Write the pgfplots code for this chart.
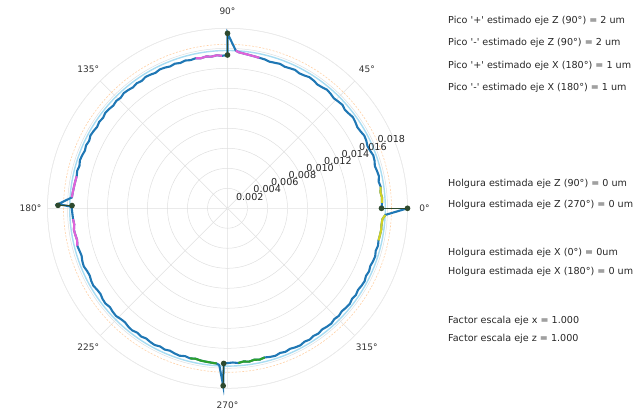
\documentclass[border=0pt]{standalone}
\usepackage{pgfplots}
\pgfplotsset{compat=1.18}
\usepackage{pgfplotstable}
\usepgfplotslibrary{polar}
\usepackage{fontspec}
\setmainfont{DejaVu Sans}
\definecolor{tabblue}{HTML}{1F77B4}
\definecolor{mag}{HTML}{E062D8}
\definecolor{yel}{HTML}{D2D226}
\definecolor{grn}{HTML}{2CA02C}
\definecolor{mk}{HTML}{2E4A2E}
\definecolor{lblue}{HTML}{A8DCF2}
\definecolor{lorange}{HTML}{FFD2A8}

\pgfplotstableread{
a r
0 0.01540
2 0.01546
4 0.01549
6 0.01538
8 0.01547
10 0.01535
12 0.01548
14 0.01541
16 0.01533
18 0.01546
20 0.01551
22 0.01538
24 0.01532
26 0.01544
28 0.01549
30 0.01537
32 0.01531
34 0.01542
36 0.01550
38 0.01539
40 0.01532
42 0.01546
44 0.01538
46 0.01530
48 0.01541
50 0.01548
52 0.01536
54 0.01530
56 0.01541
58 0.01546
60 0.01534
62 0.01529
64 0.01540
66 0.01533
68 0.01527
70 0.01537
72 0.01530
74 0.01525
76 0.01535
78 0.01538
80 0.01543
82 0.01549
84 0.01556
86 0.01565
87 0.01580
90 0.01750
90 0.01533
92 0.01526
94 0.01534
96 0.01525
98 0.01533
100 0.01524
102 0.01534
104 0.01527
106 0.01537
108 0.01528
110 0.01539
112 0.01530
114 0.01540
116 0.01545
118 0.01534
120 0.01543
122 0.01548
124 0.01536
126 0.01545
128 0.01535
130 0.01544
132 0.01550
134 0.01537
136 0.01546
138 0.01536
140 0.01545
142 0.01551
144 0.01538
146 0.01547
148 0.01537
150 0.01546
152 0.01552
154 0.01539
156 0.01548
158 0.01538
160 0.01547
162 0.01552
164 0.01540
166 0.01549
168 0.01542
170 0.01546
172 0.01550
174 0.01555
176 0.01560
178.6 0.01695
179.4 0.01560
182 0.01552
184 0.01548
186 0.01541
188 0.01551
190 0.01544
192 0.01537
194 0.01548
196 0.01540
198 0.01534
200 0.01545
202 0.01550
204 0.01538
206 0.01533
208 0.01544
210 0.01549
212 0.01537
214 0.01532
216 0.01544
218 0.01548
220 0.01536
222 0.01545
224 0.01550
226 0.01538
228 0.01533
230 0.01544
232 0.01549
234 0.01537
236 0.01546
238 0.01535
240 0.01544
242 0.01549
244 0.01537
246 0.01546
248 0.01536
250 0.01545
252 0.01550
254 0.01538
256 0.01547
258 0.01538
260 0.01546
262 0.01549
264 0.01552
266 0.01556
267 0.01570
268.6 0.01775
268.6 0.01552
270 0.01548
272 0.01543
274 0.01551
276 0.01540
278 0.01549
280 0.01538
282 0.01547
284 0.01537
286 0.01546
288 0.01551
290 0.01539
292 0.01548
294 0.01538
296 0.01547
298 0.01552
300 0.01540
302 0.01549
304 0.01539
306 0.01548
308 0.01537
310 0.01546
312 0.01551
314 0.01539
316 0.01548
318 0.01538
320 0.01547
322 0.01552
324 0.01540
326 0.01549
328 0.01539
330 0.01548
332 0.01553
334 0.01541
336 0.01550
338 0.01540
340 0.01549
342 0.01553
344 0.01542
346 0.01551
348 0.01544
350 0.01548
352 0.01552
354 0.01549
356 0.01553
357.6 0.01580
360 0.01800
}\datamain

\pgfplotstableread{
a r
78 0.01538
80 0.01543
82 0.01549
84 0.01556
86 0.01565
87 0.01580
}\magtopA
\pgfplotstableread{
a r
92 0.01526
94 0.01534
96 0.01525
98 0.01533
100 0.01524
102 0.01534
}\magtopB
\pgfplotstableread{
a r
168 0.01542
170 0.01546
172 0.01550
174 0.01555
176 0.01560
}\magleftA
\pgfplotstableread{
a r
184 0.01548
186 0.01541
188 0.01551
190 0.01544
192 0.01537
194 0.01548
}\magleftB
\pgfplotstableread{
a r
256 0.01547
258 0.01538
260 0.01546
262 0.01549
264 0.01552
266 0.01556
}\grnA
\pgfplotstableread{
a r
274 0.01551
276 0.01540
278 0.01549
280 0.01538
282 0.01547
284 0.01537
}\grnB
\pgfplotstableread{
a r
348 0.01544
350 0.01548
352 0.01552
354 0.01549
356 0.01553
357.6 0.01580
}\yelA
\pgfplotstableread{
a r
2 0.01546
4 0.01549
6 0.01538
8 0.01547
}\yelB

\begin{document}
\begin{tikzpicture}
\useasboundingbox (0,0) rectangle (641pt,412pt);
\begin{polaraxis}[
  at={(227.5pt,203.7pt)}, anchor=center,
  scale only axis, width=360pt, height=360pt,
  xmin=0, xmax=360, ymin=0, ymax=0.018,
  xtick={0,45,...,315},
  ytick={0.002,0.004,0.006,0.008,0.010,0.012,0.014,0.016,0.018},
  xticklabels={}, yticklabels={},
  scaled y ticks=false,
  grid=major,
  grid style={gray!25, line width=0.5pt},
  major tick length=0pt,
  axis line style={gray!15, line width=0.5pt},
  clip=false,
  font=\fontsize{9}{10}\selectfont,
]
\draw[lblue, line width=1.4pt] (axis cs:0,0) circle[radius=157.8pt];
\draw[lorange, line width=0.6pt, dash pattern=on 2pt off 1.5pt] (axis cs:0,0) circle[radius=164pt];

\addplot[tabblue, line width=2.1pt, no marks] table[x=a, y=r] {\datamain};
\addplot[mag, line width=2.1pt, no marks] table[x=a, y=r] {\magtopA};
\addplot[mag, line width=2.1pt, no marks] table[x=a, y=r] {\magtopB};
\addplot[mag, line width=2.1pt, no marks] table[x=a, y=r] {\magleftA};
\addplot[mag, line width=2.1pt, no marks] table[x=a, y=r] {\magleftB};
\addplot[grn, line width=2.1pt, no marks] table[x=a, y=r] {\grnA};
\addplot[grn, line width=2.1pt, no marks] table[x=a, y=r] {\grnB};
\addplot[yel, line width=2.1pt, no marks] table[x=a, y=r] {\yelA};
\addplot[yel, line width=2.1pt, no marks] table[x=a, y=r] {\yelB};

\addplot[mk, line width=1pt, mark=*, mark size=2.3pt, mark options={fill=mk}] coordinates {(0,0.01540) (0,0.01800)};
\addplot[mk, line width=1pt, mark=*, mark size=2.3pt, mark options={fill=mk}] coordinates {(90,0.01533) (90,0.01750)};
\addplot[mk, line width=1pt, mark=*, mark size=2.3pt, mark options={fill=mk}] coordinates {(179,0.01555) (179,0.01695)};
\addplot[mk, line width=1pt, mark=*, mark size=2.3pt, mark options={fill=mk}] coordinates {(268.6,0.01552) (268.6,0.01775)};

\node[text=black!80] at (axis cs:0,0.0197) {0°};
\node[text=black!80] at (axis cs:45,0.0197) {45°};
\node[text=black!80] at (axis cs:90,0.0197) {90°};
\node[text=black!80] at (axis cs:135,0.0197) {135°};
\node[text=black!80] at (axis cs:180,0.0197) {180°};
\node[text=black!80] at (axis cs:225,0.0197) {225°};
\node[text=black!80] at (axis cs:270,0.0197) {270°};
\node[text=black!80] at (axis cs:315,0.0197) {315°};

\node[font=\fontsize{9.6}{10}\selectfont, text=black!85, inner sep=0pt] at (axis cs:27,0.0025) {0.002};
\node[font=\fontsize{9.6}{10}\selectfont, text=black!85, inner sep=0pt] at (axis cs:25.5,0.0044) {0.004};
\node[font=\fontsize{9.6}{10}\selectfont, text=black!85, inner sep=0pt] at (axis cs:24.5,0.0063) {0.006};
\node[font=\fontsize{9.6}{10}\selectfont, text=black!85, inner sep=0pt] at (axis cs:24,0.0082) {0.008};
\node[font=\fontsize{9.6}{10}\selectfont, text=black!85, inner sep=0pt] at (axis cs:23.5,0.0101) {0.010};
\node[font=\fontsize{9.6}{10}\selectfont, text=black!85, inner sep=0pt] at (axis cs:23,0.0120) {0.012};
\node[font=\fontsize{9.6}{10}\selectfont, text=black!85, inner sep=0pt] at (axis cs:23,0.0139) {0.014};
\node[font=\fontsize{9.6}{10}\selectfont, text=black!85, inner sep=0pt] at (axis cs:23,0.0158) {0.016};
\node[font=\fontsize{9.6}{10}\selectfont, text=black!85, inner sep=0pt] at (axis cs:23,0.0178) {0.018};
\end{polaraxis}
\begin{scope}[every node/.style={anchor=west, inner sep=0pt, font=\fontsize{9.6}{11}\selectfont, text=black!85}]
\node at (448pt,391pt) {Pico \textquotesingle+\textquotesingle\ estimado eje Z (90°) = 2 um};
\node at (448pt,369pt) {Pico \textquotesingle-\textquotesingle\ estimado eje Z (90°) = 2 um};
\node at (448pt,346pt) {Pico \textquotesingle+\textquotesingle\ estimado eje X (180°) = 1 um};
\node at (448pt,324pt) {Pico \textquotesingle-\textquotesingle\ estimado eje X (180°) = 1 um};
\node at (448pt,228pt) {Holgura estimada eje Z (90°) = 0 um};
\node at (448pt,207pt) {Holgura estimada eje Z (270°) = 0 um};
\node at (448pt,159pt) {Holgura estimada eje X (0°) = 0um};
\node at (448pt,140pt) {Holgura estimada eje X (180°) = 0 um};
\node at (448pt,91pt) {Factor escala eje x = 1.000};
\node at (448pt,73pt) {Factor escala eje z = 1.000};
\end{scope}
\end{tikzpicture}
\end{document}
